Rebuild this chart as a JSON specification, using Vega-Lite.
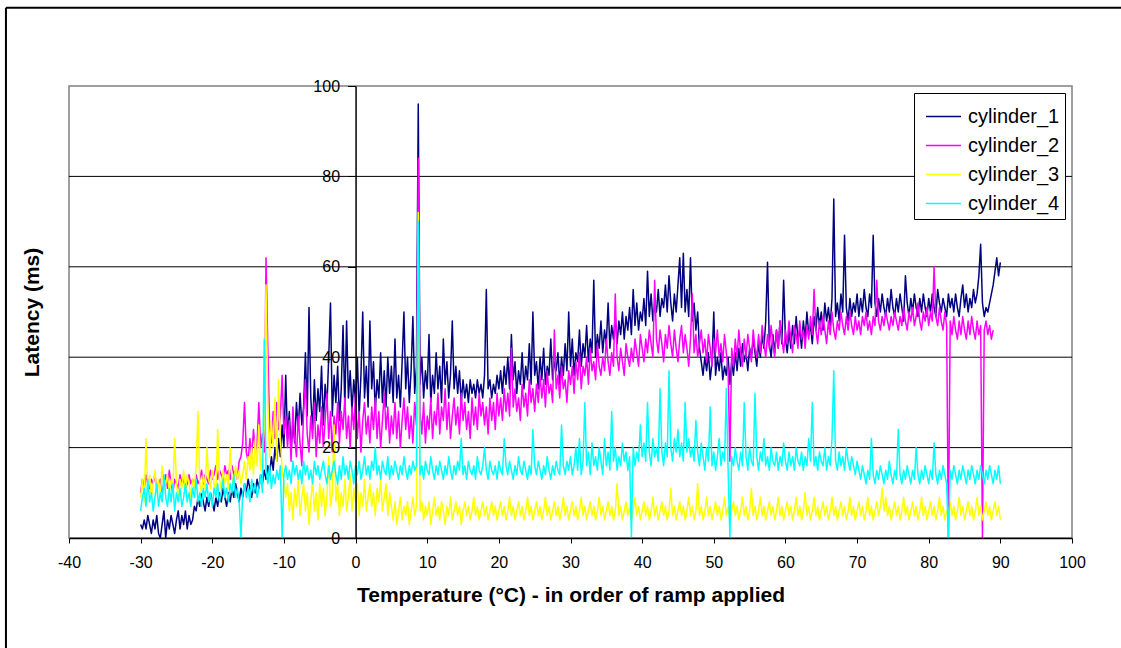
{
"$schema": "https://vega.github.io/schema/vega-lite/v6.json",
"width": 1003, "height": 452,
"autosize": {"type": "none"},
"padding": {"left": 69, "top": 86, "right": 49, "bottom": 110},
"background": "white",
"config": {"view": {"stroke": "#808080", "strokeWidth": 1.5}, "font": "Liberation Sans"},
"datasets": {
"names": [{"k":"a","n":"cylinder_1"},{"k":"b","n":"cylinder_2"},{"k":"c","n":"cylinder_3"},{"k":"d","n":"cylinder_4"}],
"grid": [{"g":20},{"g":40},{"g":60},{"g":80}],
"lat": [
{"t":-30,"a":3,"b":10,"c":9,"d":6},{"t":-29.75,"a":2,"b":13,"c":13,"d":9},{"t":-29.5,"a":4,"b":11,"c":8,"d":11},{"t":-29.25,"a":2,"b":14,"c":22,"d":7},
{"t":-29,"a":5,"b":12,"c":10,"d":13},{"t":-28.75,"a":3,"b":11,"c":14,"d":8},{"t":-28.5,"a":1,"b":13,"c":9,"d":10},{"t":-28.25,"a":4,"b":12,"c":12,"d":6},
{"t":-28,"a":2,"b":14,"c":15,"d":9},{"t":-27.75,"a":5,"b":11,"c":10,"d":12},{"t":-27.5,"a":1,"b":12,"c":13,"d":7},{"t":-27.25,"a":0,"b":13,"c":9,"d":10},
{"t":-27,"a":3,"b":10,"c":16,"d":8},{"t":-26.75,"a":6,"b":12,"c":11,"d":14},{"t":-26.5,"a":0,"b":14,"c":12,"d":9},{"t":-26.25,"a":4,"b":11,"c":14,"d":7},
{"t":-26,"a":2,"b":15,"c":10,"d":11},{"t":-25.75,"a":5,"b":12,"c":13,"d":8},{"t":-25.5,"a":3,"b":10,"c":11,"d":12},{"t":-25.25,"a":1,"b":13,"c":22,"d":6},
{"t":-25,"a":4,"b":12,"c":12,"d":10},{"t":-24.75,"a":6,"b":11,"c":9,"d":8},{"t":-24.5,"a":2,"b":14,"c":13,"d":11},{"t":-24.25,"a":5,"b":12,"c":11,"d":7},
{"t":-24,"a":3,"b":13,"c":15,"d":9},{"t":-23.75,"a":6,"b":11,"c":10,"d":12},{"t":-23.5,"a":2,"b":12,"c":14,"d":8},{"t":-23.25,"a":5,"b":14,"c":12,"d":10},
{"t":-23,"a":3,"b":12,"c":9,"d":7},{"t":-22.75,"a":4,"b":13,"c":13,"d":11},{"t":-22.5,"a":7,"b":11,"c":11,"d":9},{"t":-22.25,"a":6,"b":14,"c":16,"d":13},
{"t":-22,"a":9,"b":12,"c":28,"d":8},{"t":-21.75,"a":7,"b":13,"c":12,"d":10},{"t":-21.5,"a":10,"b":15,"c":10,"d":7},{"t":-21.25,"a":8,"b":12,"c":14,"d":11},
{"t":-21,"a":6,"b":14,"c":11,"d":9},{"t":-20.75,"a":9,"b":13,"c":20,"d":12},{"t":-20.5,"a":7,"b":12,"c":13,"d":8},{"t":-20.25,"a":10,"b":15,"c":11,"d":10},
{"t":-20,"a":8,"b":13,"c":15,"d":7},{"t":-19.75,"a":6,"b":14,"c":12,"d":11},{"t":-19.5,"a":9,"b":16,"c":10,"d":9},{"t":-19.25,"a":7,"b":13,"c":24,"d":12},
{"t":-19,"a":10,"b":15,"c":13,"d":8},{"t":-18.75,"a":8,"b":14,"c":11,"d":10},{"t":-18.5,"a":11,"b":13,"c":15,"d":13},{"t":-18.25,"a":9,"b":16,"c":12,"d":9},
{"t":-18,"a":7,"b":14,"c":14,"d":11},{"t":-17.75,"a":10,"b":15,"c":11,"d":8},{"t":-17.5,"a":8,"b":13,"c":20,"d":12},{"t":-17.25,"a":11,"b":16,"c":13,"d":10},
{"t":-17,"a":9,"b":14,"c":12,"d":14},{"t":-16.75,"a":12,"b":15,"c":16,"d":9},{"t":-16.5,"a":10,"b":13,"c":13,"d":11},{"t":-16.25,"a":8,"b":17,"c":15,"d":8},
{"t":-16,"a":11,"b":18,"c":12,"d":0},{"t":-15.75,"a":9,"b":21,"c":14,"d":10},{"t":-15.5,"a":12,"b":30,"c":17,"d":12},{"t":-15.25,"a":10,"b":19,"c":13,"d":9},
{"t":-15,"a":13,"b":17,"c":18,"d":11},{"t":-14.75,"a":11,"b":22,"c":15,"d":8},{"t":-14.5,"a":9,"b":18,"c":20,"d":13},{"t":-14.25,"a":12,"b":24,"c":14,"d":10},
{"t":-14,"a":10,"b":19,"c":22,"d":12},{"t":-13.75,"a":13,"b":21,"c":16,"d":9},{"t":-13.5,"a":11,"b":30,"c":25,"d":11},{"t":-13.25,"a":14,"b":20,"c":15,"d":14},
{"t":-13,"a":12,"b":23,"c":19,"d":10},{"t":-12.75,"a":15,"b":19,"c":24,"d":44},{"t":-12.5,"a":13,"b":62,"c":56,"d":15},{"t":-12.25,"a":16,"b":42,"c":30,"d":12},
{"t":-12,"a":14,"b":25,"c":18,"d":16},{"t":-11.75,"a":18,"b":21,"c":26,"d":11},{"t":-11.5,"a":15,"b":28,"c":20,"d":14},{"t":-11.25,"a":20,"b":22,"c":31,"d":12},
{"t":-11,"a":17,"b":30,"c":17,"d":15},{"t":-10.75,"a":22,"b":24,"c":35,"d":13},{"t":-10.5,"a":18,"b":27,"c":22,"d":16},{"t":-10.25,"a":25,"b":36,"c":15,"d":0},
{"t":-10,"a":20,"b":23,"c":12,"d":14},{"t":-9.75,"a":36,"b":27,"c":9,"d":16},{"t":-9.5,"a":22,"b":20,"c":12,"d":13},{"t":-9.25,"a":28,"b":26,"c":6,"d":15},
{"t":-9,"a":19,"b":17,"c":10,"d":12},{"t":-8.75,"a":26,"b":29,"c":4,"d":17},{"t":-8.5,"a":21,"b":22,"c":11,"d":14},{"t":-8.25,"a":30,"b":18,"c":7,"d":16},
{"t":-8,"a":24,"b":27,"c":13,"d":13},{"t":-7.75,"a":32,"b":21,"c":5,"d":15},{"t":-7.5,"a":25,"b":16,"c":9,"d":12},{"t":-7.25,"a":29,"b":28,"c":12,"d":17},
{"t":-7,"a":41,"b":35,"c":6,"d":14},{"t":-6.75,"a":27,"b":23,"c":10,"d":16},{"t":-6.5,"a":51,"b":19,"c":3,"d":13},{"t":-6.25,"a":31,"b":27,"c":8,"d":15},
{"t":-6,"a":24,"b":22,"c":13,"d":12},{"t":-5.75,"a":35,"b":30,"c":6,"d":17},{"t":-5.5,"a":26,"b":18,"c":10,"d":14},{"t":-5.25,"a":33,"b":25,"c":4,"d":16},
{"t":-5,"a":28,"b":21,"c":12,"d":13},{"t":-4.75,"a":38,"b":29,"c":7,"d":15},{"t":-4.5,"a":25,"b":20,"c":11,"d":17},{"t":-4.25,"a":34,"b":26,"c":5,"d":14},
{"t":-4,"a":29,"b":32,"c":9,"d":12},{"t":-3.75,"a":40,"b":22,"c":18,"d":16},{"t":-3.5,"a":52,"b":28,"c":7,"d":13},{"t":-3.25,"a":27,"b":19,"c":10,"d":15},
{"t":-3,"a":36,"b":27,"c":25,"d":17},{"t":-2.75,"a":30,"b":23,"c":8,"d":14},{"t":-2.5,"a":38,"b":30,"c":12,"d":12},{"t":-2.25,"a":26,"b":21,"c":5,"d":16},
{"t":-2,"a":33,"b":28,"c":10,"d":13},{"t":-1.75,"a":47,"b":24,"c":7,"d":18},{"t":-1.5,"a":29,"b":31,"c":13,"d":14},{"t":-1.25,"a":48,"b":22,"c":6,"d":16},
{"t":-1,"a":31,"b":27,"c":9,"d":13},{"t":-0.75,"a":37,"b":20,"c":14,"d":17},{"t":-0.5,"a":28,"b":29,"c":6,"d":15},{"t":-0.25,"a":35,"b":24,"c":11,"d":12},
{"t":0,"a":30,"b":32,"c":8,"d":16},{"t":0.25,"a":40,"b":22,"c":12,"d":14},{"t":0.5,"a":27,"b":28,"c":5,"d":17},{"t":0.75,"a":36,"b":19,"c":10,"d":13},
{"t":1,"a":50,"b":26,"c":7,"d":15},{"t":1.25,"a":31,"b":30,"c":13,"d":18},{"t":1.5,"a":38,"b":23,"c":6,"d":14},{"t":1.75,"a":29,"b":27,"c":9,"d":16},
{"t":2,"a":48,"b":21,"c":12,"d":13},{"t":2.25,"a":33,"b":29,"c":7,"d":17},{"t":2.5,"a":39,"b":24,"c":10,"d":15},{"t":2.75,"a":28,"b":31,"c":5,"d":20},
{"t":3,"a":35,"b":22,"c":11,"d":14},{"t":3.25,"a":31,"b":28,"c":8,"d":16},{"t":3.5,"a":41,"b":20,"c":13,"d":13},{"t":3.75,"a":30,"b":26,"c":6,"d":17},
{"t":4,"a":37,"b":32,"c":9,"d":15},{"t":4.25,"a":29,"b":24,"c":12,"d":14},{"t":4.5,"a":40,"b":29,"c":5,"d":18},{"t":4.75,"a":32,"b":21,"c":10,"d":13},
{"t":5,"a":38,"b":27,"c":7,"d":16},{"t":5.25,"a":30,"b":23,"c":4,"d":14},{"t":5.5,"a":44,"b":30,"c":8,"d":17},{"t":5.75,"a":31,"b":22,"c":3,"d":15},
{"t":6,"a":36,"b":28,"c":6,"d":13},{"t":6.25,"a":29,"b":20,"c":9,"d":16},{"t":6.5,"a":39,"b":26,"c":4,"d":14},{"t":6.75,"a":50,"b":31,"c":7,"d":18},
{"t":7,"a":33,"b":24,"c":5,"d":15},{"t":7.25,"a":40,"b":29,"c":8,"d":13},{"t":7.5,"a":30,"b":22,"c":3,"d":16},{"t":7.75,"a":37,"b":27,"c":6,"d":14},
{"t":8,"a":49,"b":21,"c":9,"d":17},{"t":8.25,"a":32,"b":30,"c":5,"d":15},{"t":8.5,"a":38,"b":25,"c":7,"d":16},{"t":8.75,"a":96,"b":84,"c":72,"d":70},
{"t":9,"a":34,"b":28,"c":6,"d":14},{"t":9.25,"a":40,"b":23,"c":8,"d":16},{"t":9.5,"a":31,"b":30,"c":4,"d":13},{"t":9.75,"a":37,"b":21,"c":7,"d":17},
{"t":10,"a":33,"b":27,"c":5,"d":15},{"t":10.25,"a":45,"b":24,"c":8,"d":14},{"t":10.5,"a":30,"b":31,"c":3,"d":18},{"t":10.75,"a":36,"b":22,"c":6,"d":15},
{"t":11,"a":32,"b":28,"c":9,"d":13},{"t":11.25,"a":41,"b":25,"c":5,"d":16},{"t":11.5,"a":33,"b":32,"c":7,"d":14},{"t":11.75,"a":38,"b":23,"c":4,"d":17},
{"t":12,"a":30,"b":29,"c":8,"d":15},{"t":12.25,"a":44,"b":26,"c":6,"d":13},{"t":12.5,"a":34,"b":33,"c":3,"d":16},{"t":12.75,"a":39,"b":24,"c":7,"d":14},
{"t":13,"a":31,"b":30,"c":5,"d":18},{"t":13.25,"a":36,"b":22,"c":9,"d":15},{"t":13.5,"a":48,"b":27,"c":4,"d":13},{"t":13.75,"a":33,"b":31,"c":6,"d":16},
{"t":14,"a":38,"b":25,"c":8,"d":14},{"t":14.25,"a":32,"b":29,"c":5,"d":17},{"t":14.5,"a":37,"b":23,"c":7,"d":15},{"t":14.75,"a":30,"b":32,"c":3,"d":22},
{"t":15,"a":35,"b":26,"c":6,"d":14},{"t":15.25,"a":31,"b":30,"c":8,"d":16},{"t":15.5,"a":34,"b":24,"c":5,"d":13},{"t":15.75,"a":30,"b":28,"c":7,"d":17},
{"t":16,"a":35,"b":22,"c":4,"d":15},{"t":16.25,"a":32,"b":31,"c":6,"d":14},{"t":16.5,"a":34,"b":25,"c":9,"d":16},{"t":16.75,"a":31,"b":29,"c":5,"d":13},
{"t":17,"a":35,"b":24,"c":7,"d":18},{"t":17.25,"a":32,"b":32,"c":4,"d":15},{"t":17.5,"a":34,"b":27,"c":6,"d":14},{"t":17.75,"a":31,"b":30,"c":8,"d":16},
{"t":18,"a":36,"b":25,"c":5,"d":20},{"t":18.25,"a":55,"b":29,"c":7,"d":15},{"t":18.5,"a":33,"b":23,"c":4,"d":13},{"t":18.75,"a":35,"b":31,"c":6,"d":17},
{"t":19,"a":31,"b":26,"c":8,"d":15},{"t":19.25,"a":34,"b":30,"c":5,"d":14},{"t":19.5,"a":32,"b":24,"c":7,"d":16},{"t":19.75,"a":36,"b":32,"c":4,"d":13},
{"t":20,"a":33,"b":27,"c":6,"d":17},{"t":20.25,"a":37,"b":31,"c":8,"d":15},{"t":20.5,"a":32,"b":26,"c":5,"d":14},{"t":20.75,"a":38,"b":33,"c":7,"d":22},
{"t":21,"a":34,"b":28,"c":4,"d":16},{"t":21.25,"a":40,"b":32,"c":6,"d":14},{"t":21.5,"a":33,"b":27,"c":9,"d":17},{"t":21.75,"a":45,"b":42,"c":5,"d":15},
{"t":22,"a":35,"b":29,"c":7,"d":13},{"t":22.25,"a":39,"b":33,"c":4,"d":16},{"t":22.5,"a":32,"b":28,"c":6,"d":14},{"t":22.75,"a":37,"b":31,"c":8,"d":18},
{"t":23,"a":34,"b":26,"c":5,"d":15},{"t":23.25,"a":41,"b":34,"c":7,"d":14},{"t":23.5,"a":33,"b":29,"c":4,"d":17},{"t":23.75,"a":38,"b":32,"c":6,"d":15},
{"t":24,"a":35,"b":27,"c":9,"d":13},{"t":24.25,"a":43,"b":35,"c":5,"d":16},{"t":24.5,"a":34,"b":30,"c":7,"d":14},{"t":24.75,"a":50,"b":33,"c":4,"d":24},
{"t":25,"a":36,"b":28,"c":6,"d":16},{"t":25.25,"a":39,"b":34,"c":8,"d":14},{"t":25.5,"a":33,"b":30,"c":5,"d":17},{"t":25.75,"a":40,"b":36,"c":7,"d":15},
{"t":26,"a":35,"b":31,"c":4,"d":13},{"t":26.25,"a":42,"b":35,"c":6,"d":16},{"t":26.5,"a":34,"b":29,"c":9,"d":14},{"t":26.75,"a":38,"b":37,"c":5,"d":18},
{"t":27,"a":36,"b":32,"c":7,"d":15},{"t":27.25,"a":44,"b":34,"c":4,"d":13},{"t":27.5,"a":35,"b":30,"c":6,"d":16},{"t":27.75,"a":39,"b":46,"c":8,"d":14},
{"t":28,"a":37,"b":33,"c":5,"d":17},{"t":28.25,"a":41,"b":36,"c":7,"d":15},{"t":28.5,"a":34,"b":31,"c":4,"d":14},{"t":28.75,"a":40,"b":38,"c":6,"d":25},
{"t":29,"a":36,"b":33,"c":9,"d":16},{"t":29.25,"a":43,"b":35,"c":5,"d":14},{"t":29.5,"a":37,"b":30,"c":7,"d":17},{"t":29.75,"a":50,"b":37,"c":4,"d":15},
{"t":30,"a":38,"b":34,"c":6,"d":18},{"t":30.25,"a":44,"b":38,"c":8,"d":14},{"t":30.5,"a":36,"b":32,"c":5,"d":16},{"t":30.75,"a":41,"b":39,"c":7,"d":20},
{"t":31,"a":39,"b":35,"c":4,"d":15},{"t":31.25,"a":46,"b":41,"c":6,"d":22},{"t":31.5,"a":38,"b":33,"c":9,"d":14},{"t":31.75,"a":43,"b":38,"c":5,"d":17},
{"t":32,"a":40,"b":36,"c":7,"d":30},{"t":32.25,"a":47,"b":40,"c":4,"d":16},{"t":32.5,"a":39,"b":34,"c":6,"d":19},{"t":32.75,"a":44,"b":42,"c":8,"d":14},
{"t":33,"a":41,"b":37,"c":5,"d":21},{"t":33.25,"a":57,"b":39,"c":7,"d":16},{"t":33.5,"a":40,"b":35,"c":4,"d":18},{"t":33.75,"a":45,"b":43,"c":6,"d":15},
{"t":34,"a":42,"b":38,"c":9,"d":20},{"t":34.25,"a":48,"b":36,"c":5,"d":17},{"t":34.5,"a":41,"b":40,"c":7,"d":14},{"t":34.75,"a":46,"b":37,"c":4,"d":22},
{"t":35,"a":43,"b":44,"c":6,"d":16},{"t":35.25,"a":52,"b":39,"c":8,"d":19},{"t":35.5,"a":42,"b":36,"c":5,"d":15},{"t":35.75,"a":47,"b":41,"c":7,"d":28},
{"t":36,"a":44,"b":38,"c":4,"d":17},{"t":36.25,"a":49,"b":54,"c":6,"d":20},{"t":36.5,"a":43,"b":40,"c":12,"d":15},{"t":36.75,"a":48,"b":37,"c":5,"d":18},
{"t":37,"a":45,"b":42,"c":7,"d":16},{"t":37.25,"a":50,"b":39,"c":4,"d":21},{"t":37.5,"a":44,"b":36,"c":6,"d":17},{"t":37.75,"a":49,"b":43,"c":8,"d":19},
{"t":38,"a":46,"b":40,"c":5,"d":15},{"t":38.25,"a":51,"b":38,"c":7,"d":18},{"t":38.5,"a":45,"b":42,"c":4,"d":0},{"t":38.75,"a":55,"b":39,"c":6,"d":20},
{"t":39,"a":47,"b":44,"c":9,"d":16},{"t":39.25,"a":52,"b":41,"c":5,"d":19},{"t":39.5,"a":46,"b":38,"c":7,"d":17},{"t":39.75,"a":50,"b":45,"c":4,"d":25},
{"t":40,"a":48,"b":42,"c":6,"d":18},{"t":40.25,"a":53,"b":39,"c":8,"d":21},{"t":40.5,"a":47,"b":44,"c":5,"d":17},{"t":40.75,"a":59,"b":41,"c":7,"d":30},
{"t":41,"a":49,"b":46,"c":4,"d":19},{"t":41.25,"a":54,"b":43,"c":6,"d":16},{"t":41.5,"a":48,"b":40,"c":9,"d":22},{"t":41.75,"a":52,"b":57,"c":5,"d":18},
{"t":42,"a":50,"b":44,"c":7,"d":20},{"t":42.25,"a":55,"b":41,"c":4,"d":17},{"t":42.5,"a":49,"b":46,"c":6,"d":33},{"t":42.75,"a":53,"b":43,"c":8,"d":19},
{"t":43,"a":51,"b":39,"c":5,"d":16},{"t":43.25,"a":56,"b":45,"c":7,"d":21},{"t":43.5,"a":50,"b":42,"c":4,"d":18},{"t":43.75,"a":58,"b":47,"c":6,"d":37},
{"t":44,"a":52,"b":43,"c":11,"d":20},{"t":44.25,"a":48,"b":40,"c":5,"d":17},{"t":44.5,"a":54,"b":46,"c":7,"d":22},{"t":44.75,"a":50,"b":42,"c":4,"d":19},
{"t":45,"a":56,"b":39,"c":6,"d":24},{"t":45.25,"a":62,"b":44,"c":8,"d":18},{"t":45.5,"a":51,"b":47,"c":5,"d":21},{"t":45.75,"a":63,"b":41,"c":7,"d":17},
{"t":46,"a":50,"b":45,"c":4,"d":30},{"t":46.25,"a":55,"b":42,"c":6,"d":19},{"t":46.5,"a":49,"b":38,"c":9,"d":22},{"t":46.75,"a":62,"b":44,"c":5,"d":18},
{"t":47,"a":48,"b":54,"c":7,"d":20},{"t":47.25,"a":52,"b":41,"c":4,"d":17},{"t":47.5,"a":46,"b":45,"c":6,"d":26},{"t":47.75,"a":50,"b":40,"c":12,"d":19},
{"t":48,"a":42,"b":43,"c":5,"d":16},{"t":48.25,"a":39,"b":46,"c":7,"d":21},{"t":48.5,"a":36,"b":41,"c":4,"d":18},{"t":48.75,"a":40,"b":44,"c":6,"d":15},
{"t":49,"a":37,"b":39,"c":9,"d":20},{"t":49.25,"a":41,"b":45,"c":5,"d":17},{"t":49.5,"a":35,"b":42,"c":7,"d":29},{"t":49.75,"a":39,"b":38,"c":4,"d":16},
{"t":50,"a":50,"b":44,"c":6,"d":19},{"t":50.25,"a":36,"b":41,"c":8,"d":15},{"t":50.5,"a":40,"b":46,"c":5,"d":18},{"t":50.75,"a":37,"b":40,"c":7,"d":22},
{"t":51,"a":41,"b":43,"c":4,"d":16},{"t":51.25,"a":35,"b":39,"c":6,"d":19},{"t":51.5,"a":38,"b":45,"c":9,"d":17},{"t":51.75,"a":36,"b":41,"c":5,"d":33},
{"t":52,"a":40,"b":37,"c":7,"d":15},{"t":52.25,"a":34,"b":17,"c":4,"d":0},{"t":52.5,"a":39,"b":42,"c":6,"d":18},{"t":52.75,"a":36,"b":38,"c":8,"d":16},
{"t":53,"a":41,"b":44,"c":5,"d":20},{"t":53.25,"a":37,"b":40,"c":7,"d":17},{"t":53.5,"a":42,"b":46,"c":4,"d":15},{"t":53.75,"a":38,"b":41,"c":6,"d":19},
{"t":54,"a":43,"b":38,"c":9,"d":16},{"t":54.25,"a":39,"b":44,"c":5,"d":30},{"t":54.5,"a":41,"b":40,"c":7,"d":18},{"t":54.75,"a":37,"b":45,"c":4,"d":15},
{"t":55,"a":42,"b":42,"c":6,"d":20},{"t":55.25,"a":40,"b":39,"c":11,"d":17},{"t":55.5,"a":44,"b":46,"c":5,"d":16},{"t":55.75,"a":41,"b":42,"c":7,"d":32},
{"t":56,"a":38,"b":40,"c":4,"d":18},{"t":56.25,"a":43,"b":45,"c":6,"d":15},{"t":56.5,"a":40,"b":41,"c":9,"d":19},{"t":56.75,"a":45,"b":47,"c":5,"d":17},
{"t":57,"a":42,"b":43,"c":7,"d":22},{"t":57.25,"a":48,"b":40,"c":4,"d":16},{"t":57.5,"a":61,"b":45,"c":6,"d":18},{"t":57.75,"a":43,"b":42,"c":8,"d":15},
{"t":58,"a":40,"b":47,"c":5,"d":20},{"t":58.25,"a":45,"b":43,"c":7,"d":17},{"t":58.5,"a":41,"b":40,"c":4,"d":16},{"t":58.75,"a":46,"b":46,"c":6,"d":19},
{"t":59,"a":42,"b":42,"c":9,"d":15},{"t":59.25,"a":48,"b":48,"c":5,"d":18},{"t":59.5,"a":43,"b":44,"c":7,"d":16},{"t":59.75,"a":57,"b":41,"c":4,"d":21},
{"t":60,"a":44,"b":46,"c":6,"d":17},{"t":60.25,"a":41,"b":43,"c":8,"d":15},{"t":60.5,"a":46,"b":48,"c":5,"d":19},{"t":60.75,"a":42,"b":44,"c":7,"d":16},
{"t":61,"a":47,"b":41,"c":4,"d":18},{"t":61.25,"a":43,"b":47,"c":6,"d":15},{"t":61.5,"a":49,"b":45,"c":9,"d":20},{"t":61.75,"a":44,"b":42,"c":5,"d":17},
{"t":62,"a":46,"b":48,"c":7,"d":16},{"t":62.25,"a":42,"b":44,"c":4,"d":19},{"t":62.5,"a":48,"b":46,"c":6,"d":15},{"t":62.75,"a":44,"b":42,"c":10,"d":18},
{"t":63,"a":50,"b":47,"c":5,"d":16},{"t":63.25,"a":45,"b":44,"c":7,"d":22},{"t":63.5,"a":47,"b":49,"c":4,"d":17},{"t":63.75,"a":43,"b":45,"c":6,"d":30},
{"t":64,"a":49,"b":55,"c":9,"d":16},{"t":64.25,"a":46,"b":46,"c":5,"d":18},{"t":64.5,"a":51,"b":43,"c":7,"d":15},{"t":64.75,"a":47,"b":48,"c":4,"d":19},
{"t":65,"a":50,"b":45,"c":6,"d":17},{"t":65.25,"a":46,"b":49,"c":8,"d":16},{"t":65.5,"a":52,"b":46,"c":5,"d":20},{"t":65.75,"a":48,"b":43,"c":7,"d":15},
{"t":66,"a":51,"b":48,"c":4,"d":18},{"t":66.25,"a":47,"b":45,"c":6,"d":16},{"t":66.5,"a":53,"b":50,"c":9,"d":22},{"t":66.75,"a":75,"b":46,"c":5,"d":37},
{"t":67,"a":49,"b":44,"c":7,"d":17},{"t":67.25,"a":52,"b":48,"c":4,"d":15},{"t":67.5,"a":48,"b":46,"c":6,"d":19},{"t":67.75,"a":54,"b":50,"c":8,"d":16},
{"t":68,"a":50,"b":47,"c":5,"d":18},{"t":68.25,"a":67,"b":45,"c":7,"d":15},{"t":68.5,"a":51,"b":49,"c":4,"d":20},{"t":68.75,"a":48,"b":46,"c":6,"d":17},
{"t":69,"a":53,"b":50,"c":9,"d":15},{"t":69.25,"a":49,"b":47,"c":5,"d":18},{"t":69.5,"a":52,"b":45,"c":7,"d":16},{"t":69.75,"a":50,"b":49,"c":4,"d":14},
{"t":70,"a":54,"b":46,"c":6,"d":17},{"t":70.25,"a":49,"b":48,"c":8,"d":15},{"t":70.5,"a":53,"b":45,"c":5,"d":13},{"t":70.75,"a":50,"b":49,"c":7,"d":16},
{"t":71,"a":55,"b":47,"c":4,"d":14},{"t":71.25,"a":51,"b":50,"c":6,"d":12},{"t":71.5,"a":49,"b":46,"c":9,"d":15},{"t":71.75,"a":54,"b":48,"c":5,"d":13},
{"t":72,"a":51,"b":45,"c":7,"d":22},{"t":72.25,"a":67,"b":49,"c":4,"d":14},{"t":72.5,"a":52,"b":47,"c":6,"d":12},{"t":72.75,"a":49,"b":57,"c":8,"d":15},
{"t":73,"a":53,"b":48,"c":5,"d":13},{"t":73.25,"a":50,"b":46,"c":7,"d":16},{"t":73.5,"a":54,"b":49,"c":11,"d":14},{"t":73.75,"a":51,"b":47,"c":6,"d":12},
{"t":74,"a":49,"b":50,"c":9,"d":15},{"t":74.25,"a":53,"b":48,"c":5,"d":13},{"t":74.5,"a":50,"b":46,"c":7,"d":17},{"t":74.75,"a":55,"b":49,"c":4,"d":14},
{"t":75,"a":51,"b":47,"c":6,"d":12},{"t":75.25,"a":49,"b":50,"c":8,"d":15},{"t":75.5,"a":53,"b":48,"c":5,"d":13},{"t":75.75,"a":50,"b":46,"c":7,"d":24},
{"t":76,"a":54,"b":49,"c":4,"d":14},{"t":76.25,"a":51,"b":47,"c":6,"d":12},{"t":76.5,"a":48,"b":51,"c":9,"d":15},{"t":76.75,"a":58,"b":48,"c":5,"d":13},
{"t":77,"a":52,"b":46,"c":7,"d":16},{"t":77.25,"a":49,"b":50,"c":4,"d":14},{"t":77.5,"a":53,"b":48,"c":6,"d":12},{"t":77.75,"a":50,"b":51,"c":8,"d":15},
{"t":78,"a":54,"b":47,"c":5,"d":13},{"t":78.25,"a":51,"b":49,"c":7,"d":20},{"t":78.5,"a":49,"b":52,"c":4,"d":14},{"t":78.75,"a":53,"b":48,"c":6,"d":12},
{"t":79,"a":50,"b":46,"c":9,"d":15},{"t":79.25,"a":54,"b":50,"c":5,"d":13},{"t":79.5,"a":51,"b":48,"c":7,"d":16},{"t":79.75,"a":49,"b":51,"c":4,"d":14},
{"t":80,"a":53,"b":47,"c":6,"d":12},{"t":80.25,"a":50,"b":50,"c":8,"d":15},{"t":80.5,"a":54,"b":48,"c":5,"d":13},{"t":80.75,"a":51,"b":60,"c":7,"d":21},
{"t":81,"a":49,"b":49,"c":4,"d":14},{"t":81.25,"a":55,"b":47,"c":6,"d":12},{"t":81.5,"a":52,"b":51,"c":9,"d":15},{"t":81.75,"a":50,"b":48,"c":5,"d":13},
{"t":82,"a":53,"b":46,"c":7,"d":16},{"t":82.25,"a":51,"b":50,"c":4,"d":14},{"t":82.5,"a":49,"b":47,"c":6,"d":12},{"t":82.75,"a":54,"b":0,"c":5,"d":0},
{"t":83,"a":51,"b":48,"c":8,"d":15},{"t":83.25,"a":53,"b":45,"c":5,"d":13},{"t":83.5,"a":50,"b":49,"c":7,"d":16},{"t":83.75,"a":54,"b":46,"c":4,"d":14},
{"t":84,"a":51,"b":44,"c":6,"d":12},{"t":84.25,"a":49,"b":48,"c":9,"d":15},{"t":84.5,"a":53,"b":45,"c":5,"d":13},{"t":84.75,"a":56,"b":49,"c":7,"d":16},
{"t":85,"a":51,"b":46,"c":4,"d":14},{"t":85.25,"a":54,"b":44,"c":6,"d":12},{"t":85.5,"a":50,"b":48,"c":8,"d":15},{"t":85.75,"a":53,"b":45,"c":5,"d":13},
{"t":86,"a":51,"b":49,"c":7,"d":16},{"t":86.25,"a":55,"b":46,"c":4,"d":14},{"t":86.5,"a":52,"b":44,"c":6,"d":12},{"t":86.75,"a":54,"b":48,"c":9,"d":15},
{"t":87,"a":58,"b":45,"c":5,"d":13},{"t":87.25,"a":65,"b":47,"c":7,"d":16},{"t":87.5,"a":52,"b":0,"c":4,"d":14},{"t":87.75,"a":49,"b":46,"c":6,"d":12},
{"t":88,"a":51,"b":48,"c":8,"d":15},{"t":88.25,"a":50,"b":45,"c":5,"d":13},{"t":88.5,"a":52,"b":47,"c":7,"d":16},{"t":88.75,"a":54,"b":44,"c":4,"d":14},
{"t":89,"a":56,"b":46,"c":6,"d":12},{"t":89.25,"a":59,"c":8,"d":15},{"t":89.5,"a":62,"c":5,"d":13},{"t":89.75,"a":58,"c":7,"d":16},
{"t":90,"a":61,"c":4,"d":12}
]
},
"layer": [
{"data": {"values": [{}]},
 "mark": {"type": "rule", "color": "black", "strokeWidth": 2},
 "encoding": {
  "x": {"datum": -48.8, "type": "quantitative", "scale": {"domain": [-40, 100]}},
  "y": {"datum": 117.3, "type": "quantitative", "scale": {"domain": [0, 100]}},
  "y2": {"datum": -40}
 }},
{"data": {"values": [{}]},
 "mark": {"type": "rule", "color": "black", "strokeWidth": 2},
 "encoding": {
  "y": {"datum": 117.3, "type": "quantitative", "scale": {"domain": [0, 100]}},
  "x": {"datum": -48.8, "type": "quantitative", "scale": {"domain": [-40, 100]}},
  "x2": {"datum": 140}
 }},
{"data": {"name": "grid"},
 "mark": {"type": "rule", "color": "black", "strokeWidth": 1},
 "encoding": {"y": {"field": "g", "type": "quantitative", "scale": {"domain": [0, 100]}}}},
{"data": {"name": "lat"},
 "transform": [
  {"fold": ["a", "b", "c", "d"], "as": ["k", "v"]},
  {"lookup": "k", "from": {"data": {"name": "names"}, "key": "k", "fields": ["n"]}}
 ],
 "mark": {"type": "line", "strokeWidth": 1.5, "strokeJoin": "round"},
 "encoding": {
  "x": {"field": "t", "type": "quantitative", "scale": {"domain": [-40, 100]},
   "axis": {"title": "Temperature (°C) - in order of ramp applied", "values": [-40,-30,-20,-10,0,10,20,30,40,50,60,70,80,90,100],
    "labelExpr": "'' + datum.value",
    "grid": false, "domainColor": "black", "domainWidth": 1.5, "tickColor": "black", "tickSize": 5, "labelPadding": 11,
    "labelFlush": false, "labelOverlap": false, "labelFont": "Liberation Sans", "labelFontSize": 16, "labelColor": "black",
    "titleFont": "Liberation Sans", "titleFontSize": 21, "titleFontWeight": "bold", "titleColor": "black", "titlePadding": 14, "zindex": 1}},
  "y": {"field": "v", "type": "quantitative", "scale": {"domain": [0, 100]},
   "axis": {"title": "Latency (ms)", "values": [0,20,40,60,80,100], "offset": -286.57,
    "labelExpr": "'' + datum.value",
    "grid": false, "domainColor": "black", "domainWidth": 1.5, "tickColor": "black", "tickSize": 8, "labelPadding": 8,
    "labelFlush": false, "labelOverlap": false, "labelFont": "Liberation Sans", "labelFontSize": 16, "labelColor": "black",
    "titleFont": "Liberation Sans", "titleFontSize": 21, "titleFontWeight": "bold", "titleColor": "black",
    "titleX": -322.6, "titleY": 226, "titleAngle": 270, "titleBaseline": "middle", "titleAlign": "center", "zindex": 1}},
  "color": {"field": "n", "type": "nominal",
   "scale": {"domain": ["cylinder_1", "cylinder_2", "cylinder_3", "cylinder_4"], "range": ["#000080", "#FF00FF", "#FFFF00", "#00FFFF"]},
   "legend": {"title": null, "orient": "none", "legendX": 845, "legendY": 7, "strokeColor": "black", "fillColor": "white",
    "padding": 5, "symbolType": "stroke", "symbolSize": 1225, "symbolStrokeWidth": 1.5, "symbolOffset": 6,
    "labelFont": "Liberation Sans", "labelFontSize": 20, "labelColor": "black", "labelOffset": 6, "rowPadding": -5, "zindex": 2}}
 }}
]
}
